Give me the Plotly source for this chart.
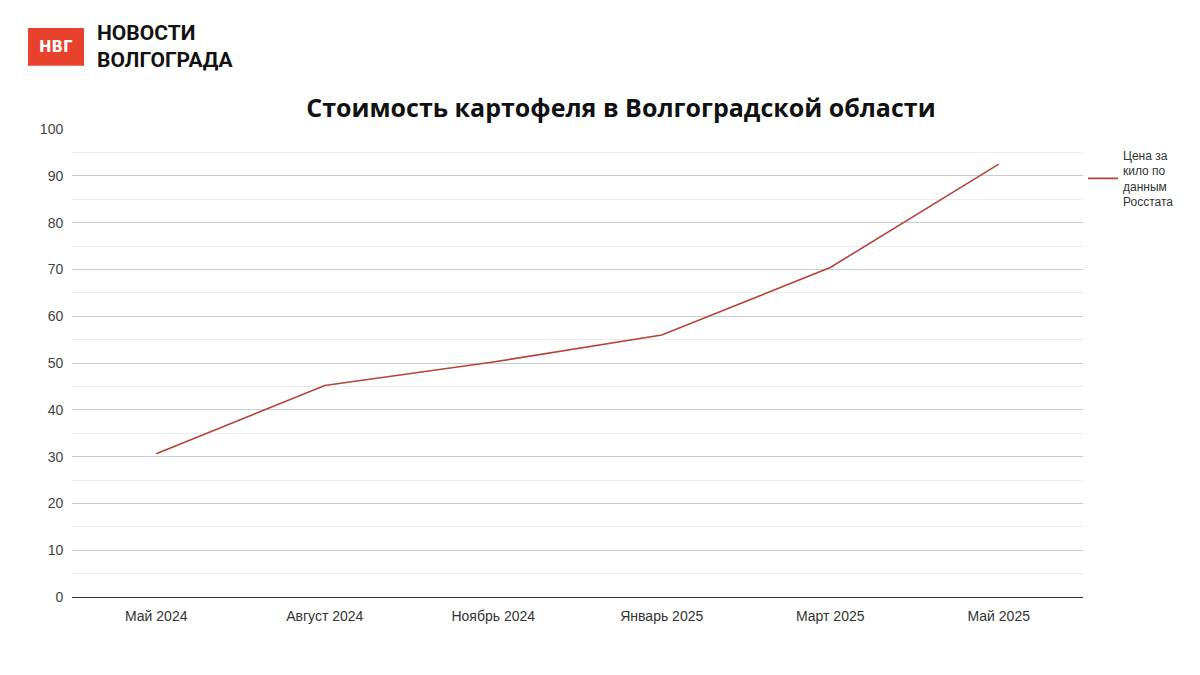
import plotly.graph_objects as go

months = ["Май 2024", "Август 2024", "Ноябрь 2024", "Январь 2025", "Март 2025", "Май 2025"]
prices = [30.6, 45.2, 50.2, 56.0, 70.4, 92.5]
series_name = "Цена за<br>кило по<br>данным<br>Росстата"

fig = go.Figure()
fig.add_trace(go.Scatter(x=months, y=prices, mode="lines", name=series_name,
                         line=dict(color="#b5443a", width=1.6)))
fig.update_layout(
    width=1200, height=675, paper_bgcolor="white", plot_bgcolor="white",
    margin=dict(l=64, r=125, t=121, b=86, autoexpand=False),
    font=dict(family="Liberation Sans, Arial", color="#444", size=14),
    title=dict(text="<b>Стоимость картофеля в Волгоградской области</b>", x=0.543, xanchor="center",
               xref="paper", yref="container",
               y=0.852, yanchor="middle", font=dict(family="Open Sans", size=25, color="#111")),
    showlegend=True,
    legend=dict(x=1.0, xanchor="left", y=0.975, yanchor="top", font=dict(size=12, color="#333"),
                bgcolor="rgba(0,0,0,0)"),
    xaxis=dict(type="category", range=[-0.5, 5.5], showgrid=False, ticks="", automargin=False,
               ticklabelstandoff=6,
               showline=True, linecolor="#333", linewidth=1, tickfont=dict(size=14, color="#333")),
    yaxis=dict(range=[0, 100], dtick=10, gridcolor="#cccccc", zeroline=False, automargin=False,
               minor=dict(dtick=5, showgrid=True, gridcolor="#ececec"),
               tickfont=dict(size=14, color="#444"), ticksuffix="  "),
)
# logo
fig.add_shape(type="rect", xref="paper", yref="paper", x0=-0.0435, x1=0.0119, y0=1.216, y1=1.135,
              fillcolor="#e8412c", line=dict(width=0))
fig.add_annotation(xref="paper", yref="paper", x=-0.0158, y=1.1755, xanchor="center", yanchor="middle",
                   text="<b>НВГ</b>", showarrow=False,
                   font=dict(family="DejaVu Sans", size=15, color="white"))
fig.add_annotation(xref="paper", yref="paper", x=0.0227, y=1.1755, xanchor="left", yanchor="middle",
                   text="<b>НОВОСТИ<br>ВОЛГОГРАДА</b>", showarrow=False, align="left",
                   font=dict(family="Roboto", size=21, color="#111"))
fig.write_html("out.html")
